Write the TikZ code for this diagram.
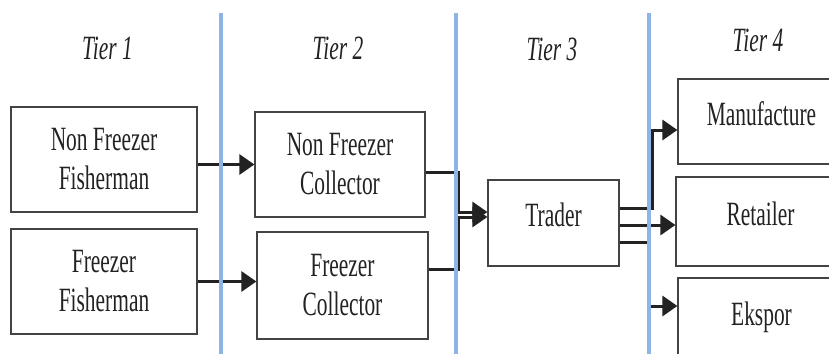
\documentclass[tikz,border=0pt]{standalone}
\usepackage{fontspec}
\setmainfont{Liberation Serif}
\newfontfamily\narrowserif[FakeStretch=0.63]{Liberation Serif}
\usetikzlibrary{arrows.meta}
\definecolor{tierblue}{RGB}{142,180,227}
\definecolor{linegray}{RGB}{34,34,34}
\tikzset{
  box/.style={draw=linegray!85, line width=0.6pt, inner sep=0pt, align=center,
    text=linegray, font=\narrowserif\fontsize{17}{19.5}\selectfont},
  onebox/.style={box, text depth=8pt},
  tier/.style={text=linegray, font=\narrowserif\itshape\fontsize{17}{19.5}\selectfont},
  flow/.style={-{Triangle[length=7.5pt,width=10pt]}},
  divider/.style={draw=tierblue, line width=2pt}
}
\begin{document}
\begin{tikzpicture}[x=0.5pt,y=-0.5pt]
      \useasboundingbox (0,0) rectangle (829,353);
      \clip (0,0) rectangle (829,353);
      \node[tier] (t1) at (107.5,48.5) {Tier 1};
      \node[tier] (t2) at (338,48.5) {Tier 2};
      \node[tier] (t3) at (552,49) {Tier 3};
      \node[tier] (t4) at (758,40.5) {Tier 4};
      \node[box, minimum width=93pt, minimum height=52.5pt] (nff) at (104,159.5) {Non Freezer\\Fisherman};
      \node[box, minimum width=93pt, minimum height=52.5pt] (ff) at (104,281.5) {Freezer\\Fisherman};
      \node[box, minimum width=85pt, minimum height=52.5pt] (nfc) at (340,164.5) {Non Freezer\\Collector};
      \node[box, minimum width=85.5pt, minimum height=53.5pt] (fc) at (342.5,285.5) {Freezer\\Collector};
      \node[onebox, minimum width=65.5pt, minimum height=43pt] (trader) at (553.5,223) {Trader};
      \node[onebox, minimum width=83.5pt, minimum height=42.5pt] (manu) at (761.5,121.5) {Manufacture};
      \node[onebox, minimum width=84.5pt, minimum height=44.5pt] (retail) at (760.5,221.5) {Retailer};
      \node[onebox, minimum width=83.5pt, minimum height=44pt] (eks) at (761.5,322) {Ekspor};
      \begin{scope}[draw=linegray, line width=1.5pt]
        \draw[flow] (nff.east |- nfc.west) -- (nfc.west);
        \draw[flow] (ff.east) -- (ff.east -| fc.west);
        \draw[flow] ([yshift=-3.75pt]nfc.east) -- ++(16.5pt,0) |- ([yshift=5.5pt]trader.west);
        \draw[flow] ([yshift=8.25pt]fc.east) -- ++(15pt,0) |- ([yshift=3pt]trader.west);
        \draw[flow] ([yshift=7.5pt]trader.east) -- ++(16.5pt,0) |- ([yshift=-4.25pt]manu.west);
        \coordinate (rt) at ([yshift=-1pt]trader.east);
        \draw[flow] (rt) -- (rt -| retail.west);
        \draw[flow] ([yshift=-9.5pt]trader.east) -- ++(15pt,0) |- ([yshift=8pt]eks.west);
      \end{scope}
      \foreach \x in {221,455.5,649}
        \draw[divider] (\x,13) -- (\x,360);
    \end{tikzpicture}
\end{document}
